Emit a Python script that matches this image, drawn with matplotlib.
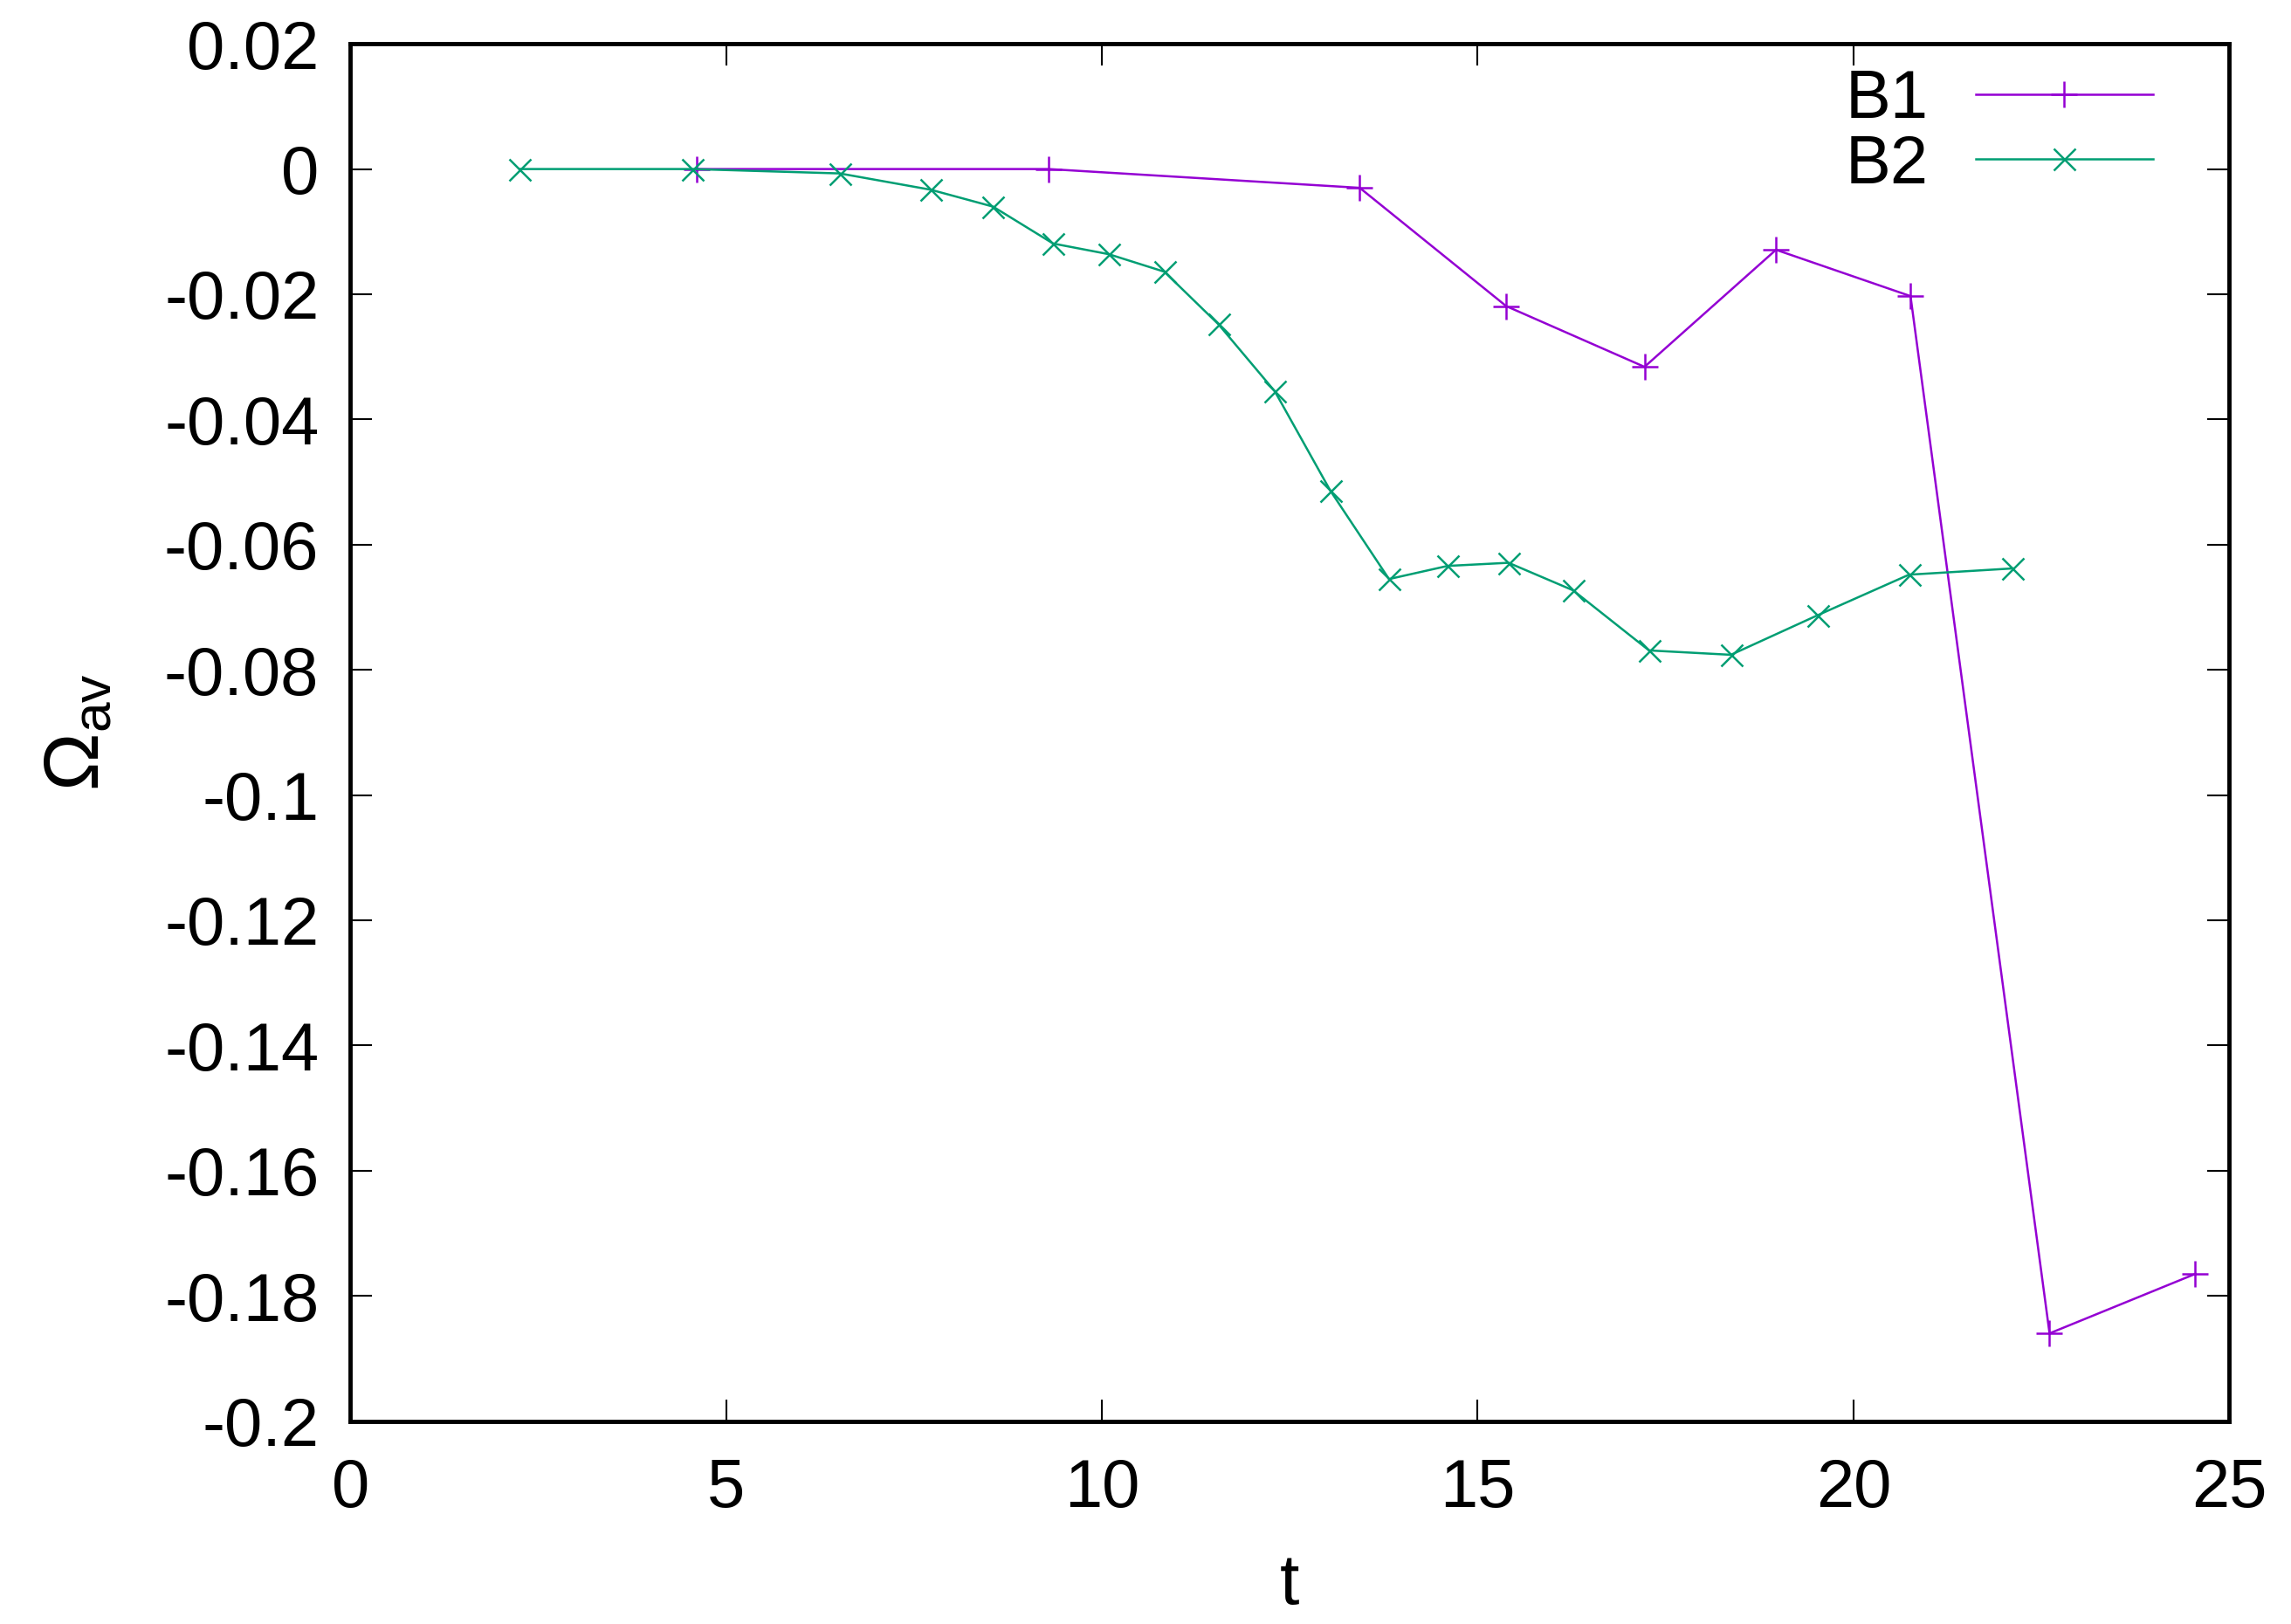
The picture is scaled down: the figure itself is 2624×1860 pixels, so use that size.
import numpy as np
import matplotlib
matplotlib.use("Agg")
import matplotlib.pyplot as plt
from matplotlib.ticker import FuncFormatter

plt.rcParams["font.family"] = ["Liberation Sans", "DejaVu Sans"]
plt.rcParams["axes.unicode_minus"] = False
plt.rcParams["mathtext.fontset"] = "custom"
plt.rcParams["mathtext.rm"] = "Liberation Sans"
plt.rcParams["mathtext.it"] = "Liberation Sans"

# B1 series
t_b1 = [4.61, 9.29, 13.43, 15.38, 17.22, 18.97, 20.76, 22.61, 24.55]
om_b1 = [0.0, 0.0, -0.003, -0.0219, -0.0316, -0.0129, -0.0203, -0.186, -0.1765]

# B2 series
t_b2 = [2.25, 4.55, 6.51, 7.72, 8.55, 9.35, 10.09, 10.83, 11.55, 12.30,
        13.04, 13.82, 14.60, 15.41, 16.27, 17.28, 18.37, 19.52, 20.74, 22.12]
om_b2 = [0.0, 0.0, -0.0007, -0.0033, -0.006, -0.0119, -0.0136, -0.0164, -0.0248, -0.0355,
         -0.0514, -0.0655, -0.0634, -0.0629, -0.0673, -0.0769, -0.0776, -0.0713, -0.0648, -0.0638]

xticks = [0, 5, 10, 15, 20, 25]
yticks = [0.02, 0, -0.02, -0.04, -0.06, -0.08, -0.1, -0.12, -0.14, -0.16, -0.18, -0.2]

fig = plt.figure(figsize=(26.24, 18.6), dpi=100)
ax = fig.add_axes([0.153, 0.125, 0.820, 0.848])

ax.plot(t_b1, om_b1, color="#9400D3", lw=1.8, marker="+", ms=22, mew=1.8, label="B1")
ax.plot(t_b2, om_b2, color="#009E73", lw=1.8, marker="x", ms=18, mew=1.8, label="B2")

ax.set_xlim(0, 25)
ax.set_ylim(-0.2, 0.02)
ax.set_xticks(xticks)
ax.set_yticks(yticks)
ax.yaxis.set_major_formatter(FuncFormatter(lambda v, p: "%g" % round(v, 4)))
ax.tick_params(direction="in", length=18, width=1.5, top=True, right=True,
               labelsize=56)
ax.tick_params(axis="x", pad=30)
ax.tick_params(axis="y", pad=26)
for s in ax.spines.values():
    s.set_linewidth(3.5)

ax.set_xlabel("t", fontsize=58, labelpad=26)
ax.set_ylabel(r"$\Omega_{\mathrm{av}}$", fontsize=64, labelpad=40)

ax.legend(loc="upper right", bbox_to_anchor=(0.981, 1.012), frameon=False, fontsize=56,
          markerfirst=False, handlelength=2.6, borderaxespad=0.2, labelspacing=0.02,
          handletextpad=0.7)

fig.savefig("out.png", dpi=100)
